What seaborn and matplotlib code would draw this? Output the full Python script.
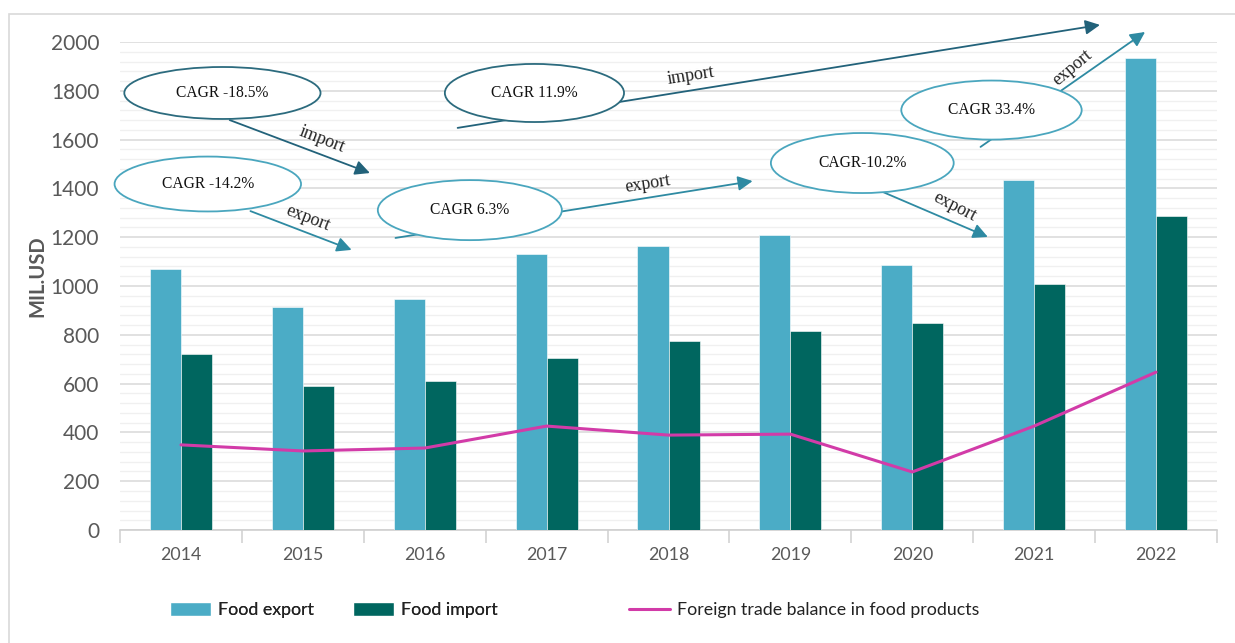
import pandas as pd
import seaborn as sns
import matplotlib.pyplot as plt
from matplotlib.patches import Ellipse, Patch, Rectangle
from matplotlib.lines import Line2D
from matplotlib.ticker import MultipleLocator, FixedLocator

# Data (MIL.USD)
years = ['2014', '2015', '2016', '2017', '2018', '2019', '2020', '2021', '2022']
food_export = [1070, 914, 947, 1131, 1164, 1209, 1086, 1434, 1934]
food_import = [721, 590, 611, 705, 775, 816, 848, 1008, 1287]
trade_balance = [349, 324, 336, 426, 389, 393, 238, 426, 647]

# CAGR callouts: text, ellipse centre/size (category units, MIL.USD), kind
cagr_labels = ['CAGR -18.5%', 'CAGR -14.2%', 'CAGR 6.3%', 'CAGR 11.9%', 'CAGR-10.2%', 'CAGR 33.4%']
cagr_kind = ['import', 'export', 'export', 'import', 'export', 'export']
cagr_centre = [(0.34, 1791), (0.22, 1418), (2.37, 1311), (2.90, 1791), (5.59, 1504), (6.65, 1721)]
cagr_size = [(1.61, 213), (1.53, 225), (1.51, 246), (1.47, 238), (1.50, 246), (1.48, 242)]
arrow_start = [(0.40, 1680), (0.57, 1307), (1.76, 1197), (2.27, 1648), (5.76, 1385), (6.56, 1570)]
arrow_end = [(1.55, 1463), (1.40, 1148), (4.69, 1430), (7.54, 2070), (6.62, 1201), (7.91, 2041)]
arrow_text_pos = [(1.16, 1600), (1.04, 1277), (3.83, 1416), (4.18, 1863), (6.35, 1326), (7.31, 1895)]
arrow_text_rot = [-21, -21, 9, 9, -27, 40]

export_color = '#4BACC6'
import_color = '#00665F'
balance_color = '#D23BA8'
grey_text = '#595959'
serif = ['Liberation Serif', 'DejaVu Serif']

df = pd.DataFrame({'year': years * 2,
                   'value': food_export + food_import,
                   'series': ['Food export'] * len(years) + ['Food import'] * len(years)})

sns.set_theme(style='white')
plt.rcParams['font.family'] = ['Lato', 'DejaVu Sans']

fig = plt.figure(figsize=(12.35, 6.43), dpi=100)
ax = fig.add_axes([0.0972, 0.1757, 0.8882, 0.759])

sns.barplot(data=df, x='year', y='value', hue='series', order=years,
            palette=[export_color, import_color], width=0.51, gap=0,
            edgecolor='white', linewidth=0.4, saturation=1, ax=ax, zorder=3)
sns.pointplot(x=years, y=trade_balance, order=years, color=balance_color,
              markers='', linewidth=2.2, ax=ax, zorder=4)

ax.set_xlim(-0.5, 8.5)
ax.set_ylim(0, 2000)
ax.yaxis.set_major_locator(MultipleLocator(200))
ax.yaxis.set_minor_locator(MultipleLocator(40))
ax.grid(axis='y', which='major', color='#D9D9D9', lw=1.1, zorder=0)
ax.grid(axis='y', which='minor', color='#F0F0F0', lw=1.0, zorder=0)
ax.set_axisbelow(True)

for s in ['left', 'right', 'top']:
    ax.spines[s].set_visible(False)
ax.spines['bottom'].set_color('#D0D0D0')
ax.spines['bottom'].set_linewidth(1.2)

ax.xaxis.set_minor_locator(FixedLocator([i - 0.5 for i in range(len(years) + 1)]))
ax.tick_params(axis='x', which='major', length=0, pad=12, labelsize=12.8, labelcolor=grey_text)
ax.tick_params(axis='x', which='minor', bottom=True, length=9, width=1.1, color='#D0D0D0')
ax.tick_params(axis='y', which='both', length=0, pad=15, labelsize=15, labelcolor=grey_text)
ax.set_xlabel('')
ax.set_ylabel('MIL.USD', fontsize=14.5, fontweight='bold', color=grey_text)
ax.yaxis.set_label_coords(-0.066, 0.52)
if ax.get_legend() is not None:
    ax.get_legend().remove()

# CAGR callouts with arrows
dark_edge, light_edge = '#2C6B7E', '#4AA6BE'
dark_arrow, light_arrow = '#22627A', '#2E8AA2'
for i in range(len(cagr_labels)):
    is_imp = cagr_kind[i] == 'import'
    ax.annotate('', xy=arrow_end[i], xytext=arrow_start[i], annotation_clip=False,
                arrowprops=dict(arrowstyle='-|>', color=dark_arrow if is_imp else light_arrow,
                                lw=1.3, mutation_scale=22, shrinkA=0, shrinkB=0),
                zorder=5)
    ax.text(*arrow_text_pos[i], cagr_kind[i], rotation=arrow_text_rot[i], ha='center', va='center',
            fontsize=13, family=serif, color='#222222', zorder=6,
            rotation_mode='anchor', clip_on=False)
    ell = Ellipse(cagr_centre[i], cagr_size[i][0], cagr_size[i][1], facecolor='white',
                  edgecolor=dark_edge if is_imp else light_edge, lw=1.3, zorder=7, clip_on=False)
    ax.add_patch(ell)
    ax.text(*cagr_centre[i], cagr_labels[i], ha='center', va='center', fontsize=11.2,
            family=serif, color='#111111', zorder=8)

bar_handles = [Patch(facecolor=export_color, edgecolor='white', label='Food export'),
               Patch(facecolor=import_color, edgecolor='white', label='Food import')]
line_handle = [Line2D([0], [0], color=balance_color, lw=2.2, label='Foreign trade balance in food products')]
leg_kw = dict(loc='center', frameon=False, fontsize=12.8, handlelength=2.3, handleheight=0.75,
              handletextpad=0.4, columnspacing=2.2, labelcolor='#222222')
fig.add_artist(fig.legend(handles=bar_handles, bbox_to_anchor=(334 / 1235, 0.051), ncol=2, **leg_kw))
fig.legend(handles=line_handle, bbox_to_anchor=(804 / 1235, 0.051), ncol=1, **leg_kw)

# light outer frame of the chart
fig.patches.append(Rectangle((9 / 1235, -0.5), 2, 0.5 + 1 - 14 / 643, transform=fig.transFigure,
                             fill=False, edgecolor='#D9D9D9', lw=1.2))

fig.savefig('out.png', dpi=100)
